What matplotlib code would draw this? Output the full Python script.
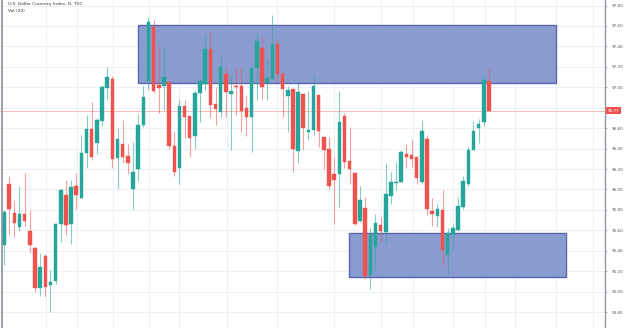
import numpy as np
import matplotlib
matplotlib.use("Agg")
import matplotlib.pyplot as plt
from matplotlib.patches import Rectangle
from matplotlib.transforms import blended_transform_factory

# daily OHLC of the dollar index
opens = [95.46, 96.05, 95.77, 95.63, 95.76, 95.59, 95.43, 95.04, 95.35, 95.06,
         95.10, 95.66, 95.95, 95.66, 96.03, 95.92, 96.36, 96.59, 96.45, 96.67,
         96.99, 97.08, 96.31, 96.44, 96.33, 96.00, 96.20, 96.63, 97.06, 97.59,
         97.02, 97.01, 97.05, 96.43, 96.21, 96.82, 96.72, 96.52, 96.94, 97.03,
         97.37, 96.84, 96.76, 97.13, 96.93, 97.01, 97.01, 96.80, 96.71, 97.19,
         97.38, 97.04, 97.08, 97.42, 97.13, 96.91, 96.98, 96.38, 96.93, 96.56,
         96.58, 96.92, 96.51, 96.40, 96.15, 96.15, 96.72, 96.28, 96.16, 95.69,
         95.82, 95.16, 95.44, 95.65, 95.58, 95.94, 96.065, 96.07, 96.35, 96.34,
         96.32, 96.07, 96.49, 95.79, 95.74, 95.80, 95.36, 95.55, 95.60, 95.83,
         96.05, 96.39, 96.60, 96.66, 97.06]
highs = [95.80, 96.13, 95.90, 96.03, 96.16, 95.80, 95.44, 95.38, 95.37, 95.21,
         95.67, 96.00, 96.09, 96.09, 96.16, 96.53, 96.73, 96.86, 96.70, 97.02,
         97.20, 97.11, 96.60, 96.68, 96.44, 96.46, 96.74, 97.01, 97.69, 97.66,
         97.40, 97.38, 97.05, 96.57, 96.89, 96.88, 96.72, 96.97, 97.08, 97.50,
         97.54, 97.00, 97.30, 97.20, 97.12, 97.20, 97.20, 96.92, 97.19, 97.54,
         97.49, 97.29, 97.71, 97.46, 97.15, 97.01, 96.98, 97.04, 96.93, 96.96,
         97.12, 96.92, 96.51, 96.51, 96.32, 96.96, 96.75, 96.61, 96.16, 96.03,
         95.93, 95.62, 95.76, 95.73, 96.26, 96.17, 96.27, 96.39, 96.44, 96.48,
         96.32, 96.68, 96.53, 95.92, 95.87, 95.99, 95.62, 95.66, 95.93, 96.13,
         96.43, 96.67, 96.69, 97.12, 97.20]
lows = [95.26, 95.55, 95.53, 95.59, 95.64, 95.38, 95.00, 94.96, 94.96, 94.80,
        95.07, 95.49, 95.55, 95.47, 95.81, 95.92, 96.21, 96.29, 96.35, 96.62,
        96.88, 96.21, 96.00, 96.26, 96.15, 95.81, 96.08, 96.61, 96.97, 96.94,
        96.75, 96.78, 96.40, 96.13, 96.05, 96.50, 96.32, 96.40, 96.66, 96.97,
        96.70, 96.63, 96.71, 96.71, 96.39, 96.73, 96.56, 96.52, 96.37, 96.88,
        96.89, 96.88, 97.08, 97.05, 96.71, 96.56, 96.17, 96.26, 96.39, 96.48,
        96.53, 96.42, 96.20, 96.00, 95.66, 95.83, 96.21, 96.05, 95.65, 95.68,
        95.12, 95.03, 95.21, 95.49, 95.48, 95.86, 95.99, 96.07, 96.21, 96.22,
        96.05, 96.05, 95.75, 95.64, 95.63, 95.26, 95.17, 95.40, 95.59, 95.81,
        96.03, 96.39, 96.45, 96.62, 96.77]
closes = [95.78, 95.81, 95.67, 95.76, 95.69, 95.46, 95.04, 95.24, 95.05, 95.09,
          95.66, 95.99, 95.65, 96.02, 95.95, 96.36, 96.59, 96.32, 96.68, 97.00,
          97.10, 96.30, 96.49, 96.32, 96.26, 96.17, 96.63, 96.90, 97.64, 96.96,
          96.99, 97.10, 96.43, 96.17, 96.82, 96.71, 96.50, 96.94, 97.06, 97.37,
          96.83, 96.79, 97.20, 96.95, 96.96, 97.00, 96.77, 96.71, 97.19, 97.45,
          97.00, 97.09, 97.42, 97.13, 96.98, 96.97, 96.40, 96.95, 96.60, 96.58,
          97.01, 96.57, 96.39, 96.03, 96.09, 96.66, 96.27, 96.20, 95.66, 95.90,
          95.15, 95.55, 95.67, 95.59, 95.96, 96.07, 96.075, 96.37, 96.32, 96.30,
          96.11, 96.57, 95.81, 95.76, 95.81, 95.41, 95.57, 95.62, 95.84, 96.08,
          96.39, 96.57, 96.64, 97.07, 96.77]

last_price = 96.77

# supply / demand zones: (first bar, last bar, low, high)
zone_top = (26.0, 107.0, 97.04, 97.61)
zone_bottom = (66.9, 108.9, 95.14, 95.57)

price_ticks = [94.80, 95.00, 95.20, 95.40, 95.60, 95.80, 96.00, 96.20,
               96.40, 96.60, 96.80, 97.00, 97.20, 97.40, 97.60, 97.80]
vgrid_bars = [8.1, 14.1, 21.1, 28.2, 33.9, 43.2, 53.0, 64.0, 73.1, 79.2,
              87.1, 93.2, 99.0, 107.0, 114.1]

up_col = "#26a69a"
down_col = "#ef5350"

fig = plt.figure(figsize=(6.25, 3.28), dpi=100)
ax = fig.add_axes([0, 0, 605 / 625, 1])
ax.set_xlim(-0.78, 116.5)
ax.set_ylim(94.644, 97.854)

# grid
for p in price_ticks:
    ax.axhline(p, color="#edf1f6", lw=0.8, zorder=0)
for b in vgrid_bars:
    ax.axvline(b, color="#edf1f6", lw=0.8, zorder=0)

# zones
for z in [zone_top, zone_bottom]:
    ax.add_patch(Rectangle((z[0], z[2]), z[1] - z[0], z[3] - z[2],
                           facecolor="#8a9bd0", edgecolor="#5866ad", lw=1.0, zorder=1))

# candles
w = 0.68
for i in range(len(opens)):
    o, h, l, c = opens[i], highs[i], lows[i], closes[i]
    col = up_col if c >= o else down_col
    ax.plot([i, i], [l, h], color=col, lw=0.8, alpha=0.55, zorder=2,
            solid_capstyle="butt")
    lo = min(o, c)
    hgt = max(abs(c - o), 0.012)
    ax.add_patch(Rectangle((i - w / 2, lo), w, hgt, facecolor=col,
                           edgecolor=col, lw=0.3, zorder=3))

# last price line
ax.axhline(last_price, color=down_col, lw=0.6, alpha=0.45, zorder=2)

# left pane border
ax.axvline(-0.39, color="#9598a1", lw=1.3, zorder=4)

# right price scale
ax.yaxis.tick_right()
shown = [p for p in price_ticks if abs(p - last_price) > 0.1]
ax.set_yticks(shown)
ax.set_yticklabels(["%.2f" % p for p in shown])
ax.tick_params(axis="y", labelsize=3, labelcolor="#555555", color="#9598a1",
               length=1.6, width=0.5, pad=3.5)
ax.set_xticks([])
for s in ["top", "bottom", "left"]:
    ax.spines[s].set_visible(False)
ax.spines["right"].set_color("#9598a1")
ax.spines["right"].set_linewidth(1.0)

tr = blended_transform_factory(ax.transAxes, ax.transData)
ax.text(1.014, last_price, "%.2f" % last_price, transform=tr, ha="center",
        va="center", fontsize=3, color="white", clip_on=False,
        bbox=dict(boxstyle="square,pad=0.35", facecolor=down_col, edgecolor="none"))

# legend texts
fig.text(8 / 625, 1 - 4 / 328, "U.S. Dollar Currency Index, D, TVC", fontsize=3.2,
         color="#333333", va="center", ha="left")
fig.text(8 / 625, 1 - 11 / 328, "Vol (20)", fontsize=3.2, color="#333333",
         va="center", ha="left")

fig.savefig("out.png", dpi=100)
